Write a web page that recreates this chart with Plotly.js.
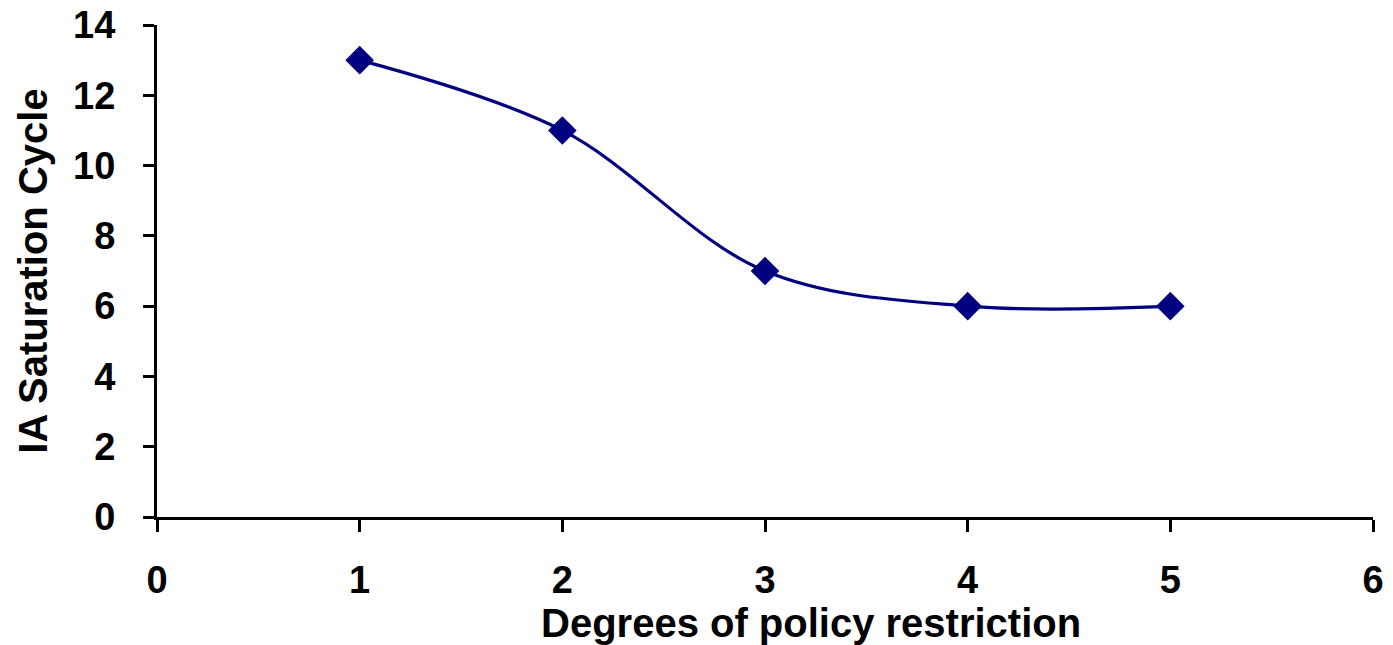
<!DOCTYPE html>
<html>
<head>
<meta charset="utf-8">
<script src="https://cdn.plot.ly/plotly-3.0.1.min.js"></script>
<style>html,body{margin:0;padding:0;background:#fff;}#chart{width:1393px;height:645px;}</style>
</head>
<body>
<div id="chart"></div>
<script>
const degrees = [1, 2, 3, 4, 5];
const saturationCycle = [13, 11, 7, 6, 6];
const xTicks = [0, 1, 2, 3, 4, 5, 6];
const yTicks = [0, 2, 4, 6, 8, 10, 12, 14];
const xTitle = 'Degrees of policy restriction';
const yTitle = 'IA Saturation Cycle';

const font = 'Liberation Sans, Arial, sans-serif';
const trace = {
  x: degrees,
  y: saturationCycle,
  type: 'scatter',
  mode: 'lines+markers',
  line: {shape: 'spline', smoothing: 1, color: '#000080', width: 3.2},
  marker: {symbol: 'diamond', size: 22, color: '#000080'},
  cliponaxis: false,
  showlegend: false
};
const layout = {
  width: 1393, height: 645,
  margin: {l: 157, r: 20, t: 25, b: 128},
  paper_bgcolor: '#fff', plot_bgcolor: '#fff',
  font: {family: font, color: '#000'},
  xaxis: {
    range: [0, 6], tickvals: xTicks, ticktext: xTicks.map(String),
    showline: true, linecolor: '#000', linewidth: 3,
    ticks: 'outside', ticklen: 12, tickwidth: 3, tickcolor: '#000',
    showgrid: false, zeroline: false,
    tickfont: {family: font, size: 38, color: '#000', weight: 'bold'},
    ticklabelstandoff: 15
  },
  yaxis: {
    range: [0, 14], tickvals: yTicks, ticktext: yTicks.map(String),
    showline: true, linecolor: '#000', linewidth: 3,
    ticks: 'outside', ticklen: 11, tickwidth: 3, tickcolor: '#000',
    showgrid: false, zeroline: false,
    tickfont: {family: font, size: 38, color: '#000', weight: 'bold'},
    ticklabelstandoff: 20,
    title: {text: '<b>' + yTitle + '</b>', font: {family: font, size: 40, color: '#000'}, standoff: 14}
  },
  annotations: [{
    text: '<b>' + xTitle + '</b>',
    xref: 'paper', yref: 'paper', x: 0.5378, y: -0.215,
    xanchor: 'center', yanchor: 'middle', showarrow: false,
    font: {family: font, size: 40, color: '#000'}
  }]
};
Plotly.newPlot('chart', [trace], layout, {displayModeBar: false, staticPlot: true});
</script>
</body>
</html>
